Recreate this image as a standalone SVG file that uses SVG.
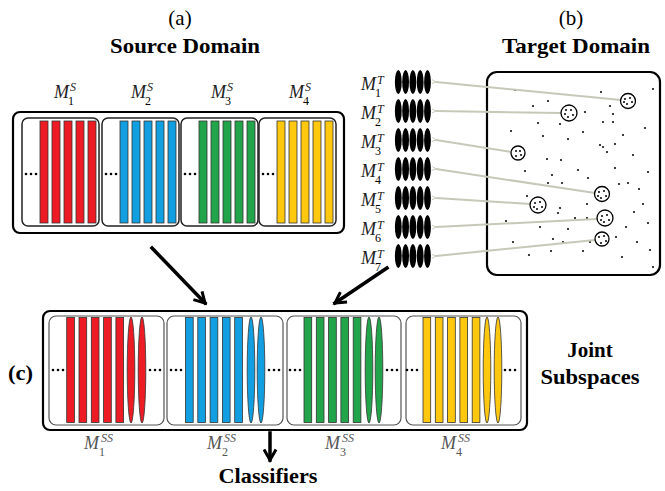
<svg xmlns="http://www.w3.org/2000/svg" width="665" height="491" viewBox="0 0 665 491">
<defs>
<style>
.t{font-family:"Liberation Serif","Times New Roman",serif;fill:#000}
.b{font-weight:bold;font-size:21px}
.m{font-family:"Liberation Serif","Times New Roman",serif;font-style:italic;font-size:18px;fill:#222}
.s{font-size:12px}
.mg{fill:#555}
.outer{fill:#fff;stroke:#000;stroke-width:2.2}
.inner{fill:#fff;stroke:#222;stroke-width:1.5}
.innerj{fill:#fff;stroke:#555;stroke-width:1.2}
.red{fill:#ED1C24;stroke:#333;stroke-width:0.8}
.blue{fill:#129FE2;stroke:#333;stroke-width:0.8}
.green{fill:#22A54A;stroke:#333;stroke-width:0.8}
.yellow{fill:#FFC80F;stroke:#333;stroke-width:0.8}
.tdot{fill:#111}
.stk{fill:#000}
.gl{stroke:#c8c8b8;stroke-width:2;fill:none}
.blk{stroke:#000;stroke-width:3.5;fill:none;stroke-linecap:square}
.clu{fill:#fff;stroke:#000;stroke-width:1.3}
</style>
<marker id="ga" viewBox="0 0 10 10" refX="1" refY="5" markerWidth="5" markerHeight="5" orient="auto-start-reverse" markerUnits="userSpaceOnUse">
<path d="M9,1 L1,5 L9,9" fill="none" stroke="#b8b8a8" stroke-width="1.5"/>
</marker>
<marker id="ba" viewBox="0 0 10 10" refX="8" refY="5" markerWidth="15" markerHeight="15" orient="auto" markerUnits="userSpaceOnUse">
<path d="M1,1 L8,5 L1,9" fill="none" stroke="#000" stroke-width="2" stroke-linejoin="miter"/>
</marker>
<g id="dots3"><circle cx="4" cy="0" r="1.3"/><circle cx="9" cy="0" r="1.3"/><circle cx="14" cy="0" r="1.3"/></g>
<g id="stack"><ellipse cx="0" cy="0" rx="3.4" ry="12"/><ellipse cx="7.3" cy="0" rx="3.4" ry="12"/><ellipse cx="14.6" cy="0" rx="3.4" ry="12"/><ellipse cx="21.9" cy="0" rx="3.4" ry="12"/><ellipse cx="29.2" cy="0" rx="3.4" ry="12"/></g>
</defs>
<rect width="665" height="491" fill="#fff"/>

<!-- titles -->
<g id="titleA"><text class="t" x="180" y="25" font-size="21" text-anchor="middle">(a)</text>
<text class="t b" x="185" y="53" text-anchor="middle" textLength="150" lengthAdjust="spacingAndGlyphs">Source Domain</text></g>
<g id="titleB"><text class="t" x="571" y="25" font-size="21" text-anchor="middle">(b)</text>
<text class="t b" x="576" y="53" text-anchor="middle" textLength="148" lengthAdjust="spacingAndGlyphs">Target Domain</text></g>

<!-- source domain -->
<g id="source">
<rect class="outer" x="13" y="112" width="331" height="121" rx="7"/>
<g id="s1"><rect class="inner" x="22" y="118" width="77" height="108" rx="6"/>
<use href="#dots3" x="22" y="174"/>
<rect class="red" x="40" y="121" width="8" height="102"/><rect class="red" x="52" y="121" width="8" height="102"/><rect class="red" x="64" y="121" width="8" height="102"/><rect class="red" x="76" y="121" width="8" height="102"/><rect class="red" x="88" y="121" width="8" height="102"/></g>
<g id="s2"><rect class="inner" x="102" y="118" width="77" height="108" rx="6"/>
<use href="#dots3" x="102" y="174"/>
<rect class="blue" x="120" y="121" width="8" height="102"/><rect class="blue" x="132" y="121" width="8" height="102"/><rect class="blue" x="144" y="121" width="8" height="102"/><rect class="blue" x="156" y="121" width="8" height="102"/><rect class="blue" x="168" y="121" width="8" height="102"/></g>
<g id="s3"><rect class="inner" x="181" y="118" width="77" height="108" rx="6"/>
<use href="#dots3" x="181" y="174"/>
<rect class="green" x="199" y="121" width="8" height="102"/><rect class="green" x="211" y="121" width="8" height="102"/><rect class="green" x="223" y="121" width="8" height="102"/><rect class="green" x="235" y="121" width="8" height="102"/><rect class="green" x="247" y="121" width="8" height="102"/></g>
<g id="s4"><rect class="inner" x="259" y="118" width="77" height="108" rx="6"/>
<use href="#dots3" x="259" y="174"/>
<rect class="yellow" x="277" y="121" width="8" height="102"/><rect class="yellow" x="289" y="121" width="8" height="102"/><rect class="yellow" x="301" y="121" width="8" height="102"/><rect class="yellow" x="313" y="121" width="8" height="102"/><rect class="yellow" x="325" y="121" width="8" height="102"/></g>
</g>
<g id="sourceLabels">
<text class="m" x="54" y="98">M</text><text class="m s" x="70" y="91">S</text><text class="t s" x="68" y="105">1</text>
<text class="m" x="131" y="98">M</text><text class="m s" x="147" y="91">S</text><text class="t s" x="145" y="105">2</text>
<text class="m" x="211" y="98">M</text><text class="m s" x="227" y="91">S</text><text class="t s" x="225" y="105">3</text>
<text class="m" x="289" y="98">M</text><text class="m s" x="305" y="91">S</text><text class="t s" x="303" y="105">4</text>
</g>

<!-- target domain box -->
<g id="target">
<rect class="outer" x="487" y="72" width="173" height="203" rx="10" stroke-width="2.5"/>
<g class="tdot">
<circle cx="515" cy="90" r="1.1"/><circle cx="601" cy="92" r="1.1"/><circle cx="653" cy="89" r="1.1"/><circle cx="533" cy="106" r="1.1"/><circle cx="548" cy="101" r="1.1"/><circle cx="610" cy="106" r="1.1"/><circle cx="585" cy="112" r="1.1"/><circle cx="613" cy="114" r="1.1"/><circle cx="538" cy="123" r="1.1"/><circle cx="560" cy="124" r="1.1"/><circle cx="603" cy="122" r="1.1"/><circle cx="613" cy="122" r="1.1"/><circle cx="645" cy="128" r="1.1"/><circle cx="511" cy="131" r="1.1"/><circle cx="583" cy="132" r="1.1"/><circle cx="543" cy="136" r="1.1"/><circle cx="568" cy="139" r="1.1"/><circle cx="623" cy="135" r="1.1"/><circle cx="600" cy="145" r="1.1"/><circle cx="603" cy="147" r="1.1"/><circle cx="607" cy="152" r="1.1"/><circle cx="615" cy="144" r="1.1"/><circle cx="633" cy="155" r="1.1"/><circle cx="547" cy="159" r="1.1"/><circle cx="561" cy="160" r="1.1"/><circle cx="525" cy="171" r="1.1"/><circle cx="552" cy="175" r="1.1"/><circle cx="578" cy="170" r="1.1"/><circle cx="588" cy="178" r="1.1"/><circle cx="615" cy="168" r="1.1"/><circle cx="648" cy="172" r="1.1"/>
<circle cx="548" cy="183" r="1.1"/><circle cx="562" cy="183" r="1.1"/><circle cx="619" cy="184" r="1.1"/><circle cx="628" cy="183" r="1.1"/><circle cx="639" cy="189" r="1.1"/><circle cx="527" cy="196" r="1.1"/><circle cx="558" cy="213" r="1.1"/><circle cx="560" cy="208" r="1.1"/><circle cx="587" cy="204" r="1.1"/><circle cx="643" cy="204" r="1.1"/><circle cx="506" cy="221" r="1.1"/><circle cx="540" cy="227" r="1.1"/><circle cx="568" cy="229" r="1.1"/><circle cx="575" cy="218" r="1.1"/><circle cx="587" cy="218" r="1.1"/><circle cx="634" cy="212" r="1.1"/><circle cx="626" cy="227" r="1.1"/><circle cx="648" cy="223" r="1.1"/><circle cx="513" cy="242" r="1.1"/><circle cx="553" cy="239" r="1.1"/><circle cx="563" cy="242" r="1.1"/><circle cx="590" cy="242" r="1.1"/><circle cx="616" cy="237" r="1.1"/><circle cx="637" cy="242" r="1.1"/><circle cx="529" cy="255" r="1.1"/><circle cx="551" cy="251" r="1.1"/><circle cx="583" cy="251" r="1.1"/><circle cx="622" cy="257" r="1.1"/><circle cx="650" cy="250" r="1.1"/><circle cx="653" cy="267" r="1.1"/>
</g>
</g>

<!-- target stacks -->
<g id="stacks" class="stk">
<use href="#stack" x="398.3" y="82"/><use href="#stack" x="398.3" y="111"/><use href="#stack" x="398.3" y="140"/><use href="#stack" x="398.3" y="169"/><use href="#stack" x="398.3" y="198"/><use href="#stack" x="398.3" y="227"/><use href="#stack" x="398.3" y="256"/>
</g>
<g id="targetLabels">
<text class="m" x="361" y="90">M</text><text class="m s" x="377" y="84">T</text><text class="t s" x="375" y="97">1</text>
<text class="m" x="361" y="119">M</text><text class="m s" x="377" y="113">T</text><text class="t s" x="375" y="126">2</text>
<text class="m" x="361" y="148">M</text><text class="m s" x="377" y="142">T</text><text class="t s" x="375" y="155">3</text>
<text class="m" x="361" y="177">M</text><text class="m s" x="377" y="171">T</text><text class="t s" x="375" y="184">4</text>
<text class="m" x="361" y="206">M</text><text class="m s" x="377" y="200">T</text><text class="t s" x="375" y="213">5</text>
<text class="m" x="361" y="235">M</text><text class="m s" x="377" y="229">T</text><text class="t s" x="375" y="242">6</text>
<text class="m" x="361" y="264">M</text><text class="m s" x="377" y="258">T</text><text class="t s" x="375" y="271">7</text>
</g>

<!-- connectors -->
<g id="connectors">
<line class="gl" x1="436" y1="82" x2="621" y2="100" marker-start="url(#ga)"/>
<line class="gl" x1="436" y1="111" x2="561" y2="113" marker-start="url(#ga)"/>
<line class="gl" x1="436" y1="140" x2="511" y2="152" marker-start="url(#ga)"/>
<line class="gl" x1="436" y1="169" x2="595" y2="193" marker-start="url(#ga)"/>
<line class="gl" x1="436" y1="198" x2="530" y2="204" marker-start="url(#ga)"/>
<line class="gl" x1="436" y1="227" x2="597" y2="219" marker-start="url(#ga)"/>
<line class="gl" x1="436" y1="256" x2="595" y2="240" marker-start="url(#ga)"/>
<line class="blk" x1="152" y1="248" x2="205" y2="303" marker-end="url(#ba)"/>
<line class="blk" x1="387" y1="268" x2="335" y2="303" marker-end="url(#ba)"/>
<line class="blk" x1="270" y1="433" x2="270" y2="460" marker-end="url(#ba)"/>
</g>

<!-- clusters -->
<g id="clusters">
<circle class="clu" cx="628" cy="101" r="7.5"/><circle cx="625" cy="99" r="1"/><circle cx="630" cy="98" r="1"/><circle cx="632" cy="102" r="1"/><circle cx="627" cy="104" r="1"/><circle cx="624" cy="102" r="1"/>
<circle class="clu" cx="569" cy="113" r="8"/><circle cx="566" cy="110" r="1"/><circle cx="571" cy="110" r="1"/><circle cx="573" cy="115" r="1"/><circle cx="568" cy="117" r="1"/><circle cx="565" cy="114" r="1"/>
<circle class="clu" cx="518" cy="153" r="7"/><circle cx="516" cy="151" r="1"/><circle cx="520" cy="151" r="1"/><circle cx="521" cy="155" r="1"/><circle cx="516" cy="156" r="1"/>
<circle class="clu" cx="602" cy="194" r="7.5"/><circle cx="599" cy="192" r="1"/><circle cx="604" cy="191" r="1"/><circle cx="606" cy="196" r="1"/><circle cx="601" cy="198" r="1"/><circle cx="598" cy="196" r="1"/>
<circle class="clu" cx="538" cy="205" r="8"/><circle cx="535" cy="203" r="1"/><circle cx="540" cy="202" r="1"/><circle cx="542" cy="207" r="1"/><circle cx="537" cy="209" r="1"/><circle cx="534" cy="207" r="1"/>
<circle class="clu" cx="605" cy="218" r="8"/><circle cx="602" cy="216" r="1"/><circle cx="607" cy="215" r="1"/><circle cx="609" cy="220" r="1"/><circle cx="604" cy="222" r="1"/><circle cx="601" cy="220" r="1"/>
<circle class="clu" cx="602" cy="239" r="7"/><circle cx="599" cy="237" r="1"/><circle cx="604" cy="236" r="1"/><circle cx="606" cy="241" r="1"/><circle cx="601" cy="243" r="1"/>
</g>

<!-- joint subspaces -->
<g id="joint">
<rect class="outer" x="43" y="311" width="484" height="119" rx="7" stroke-width="2.5"/>
<g id="j1"><rect class="innerj" x="49" y="316" width="115" height="109" rx="7"/>
<use href="#dots3" x="49" y="370"/><use href="#dots3" x="146" y="370"/>
<rect class="red" x="66.7" y="317.5" width="7.7" height="105"/><rect class="red" x="79" y="317.5" width="7.7" height="105"/><rect class="red" x="91.3" y="317.5" width="7.7" height="105"/><rect class="red" x="103.6" y="317.5" width="7.7" height="105"/><rect class="red" x="115.9" y="317.5" width="7.7" height="105"/>
<ellipse class="red" cx="131" cy="370" rx="3.8" ry="53"/><ellipse class="red" cx="142" cy="370" rx="3.8" ry="53"/></g>
<g id="j2"><rect class="innerj" x="167" y="316" width="116" height="109" rx="7"/>
<use href="#dots3" x="167" y="370"/><use href="#dots3" x="265" y="370"/>
<rect class="blue" x="185.5" y="317.5" width="7.7" height="105"/><rect class="blue" x="197.8" y="317.5" width="7.7" height="105"/><rect class="blue" x="210.1" y="317.5" width="7.7" height="105"/><rect class="blue" x="222.4" y="317.5" width="7.7" height="105"/><rect class="blue" x="234.7" y="317.5" width="7.7" height="105"/>
<ellipse class="blue" cx="251" cy="370" rx="3.8" ry="53"/><ellipse class="blue" cx="261" cy="370" rx="3.8" ry="53"/></g>
<g id="j3"><rect class="innerj" x="287" y="316" width="114" height="109" rx="7"/>
<use href="#dots3" x="286" y="370"/><use href="#dots3" x="383" y="370"/>
<rect class="green" x="304" y="317.5" width="7.7" height="105"/><rect class="green" x="316.3" y="317.5" width="7.7" height="105"/><rect class="green" x="328.6" y="317.5" width="7.7" height="105"/><rect class="green" x="340.9" y="317.5" width="7.7" height="105"/><rect class="green" x="353.2" y="317.5" width="7.7" height="105"/>
<ellipse class="green" cx="369" cy="370" rx="3.8" ry="53"/><ellipse class="green" cx="379" cy="370" rx="3.8" ry="53"/></g>
<g id="j4"><rect class="innerj" x="406" y="316" width="115" height="109" rx="7"/>
<use href="#dots3" x="403" y="370"/><use href="#dots3" x="501" y="370"/>
<rect class="yellow" x="423" y="317.5" width="7.7" height="105"/><rect class="yellow" x="435.3" y="317.5" width="7.7" height="105"/><rect class="yellow" x="447.6" y="317.5" width="7.7" height="105"/><rect class="yellow" x="459.9" y="317.5" width="7.7" height="105"/><rect class="yellow" x="472.2" y="317.5" width="7.7" height="105"/>
<ellipse class="yellow" cx="487" cy="370" rx="3.8" ry="53"/><ellipse class="yellow" cx="498" cy="370" rx="3.8" ry="53"/></g>
</g>
<g id="jointLabels">
<text class="m mg" x="84" y="449" font-size="19">M</text><text class="m s mg" x="101" y="442">SS</text><text class="t s mg" x="99" y="456">1</text>
<text class="m mg" x="207" y="449" font-size="19">M</text><text class="m s mg" x="224" y="442">SS</text><text class="t s mg" x="222" y="456">2</text>
<text class="m mg" x="325" y="449" font-size="19">M</text><text class="m s mg" x="342" y="442">SS</text><text class="t s mg" x="340" y="456">3</text>
<text class="m mg" x="441" y="449" font-size="19">M</text><text class="m s mg" x="458" y="442">SS</text><text class="t s mg" x="456" y="456">4</text>
</g>
<g id="labelC"><text class="t b" x="8" y="380" textLength="25" lengthAdjust="spacingAndGlyphs">(c)</text></g>
<g id="labelJoint"><text class="t b" x="590" y="357" text-anchor="middle">Joint</text>
<text class="t b" x="590" y="384" text-anchor="middle" textLength="99" lengthAdjust="spacingAndGlyphs">Subspaces</text></g>
<g id="labelClassifiers"><text class="t b" x="268" y="483" text-anchor="middle" textLength="99" lengthAdjust="spacingAndGlyphs">Classifiers</text></g>
</svg>
